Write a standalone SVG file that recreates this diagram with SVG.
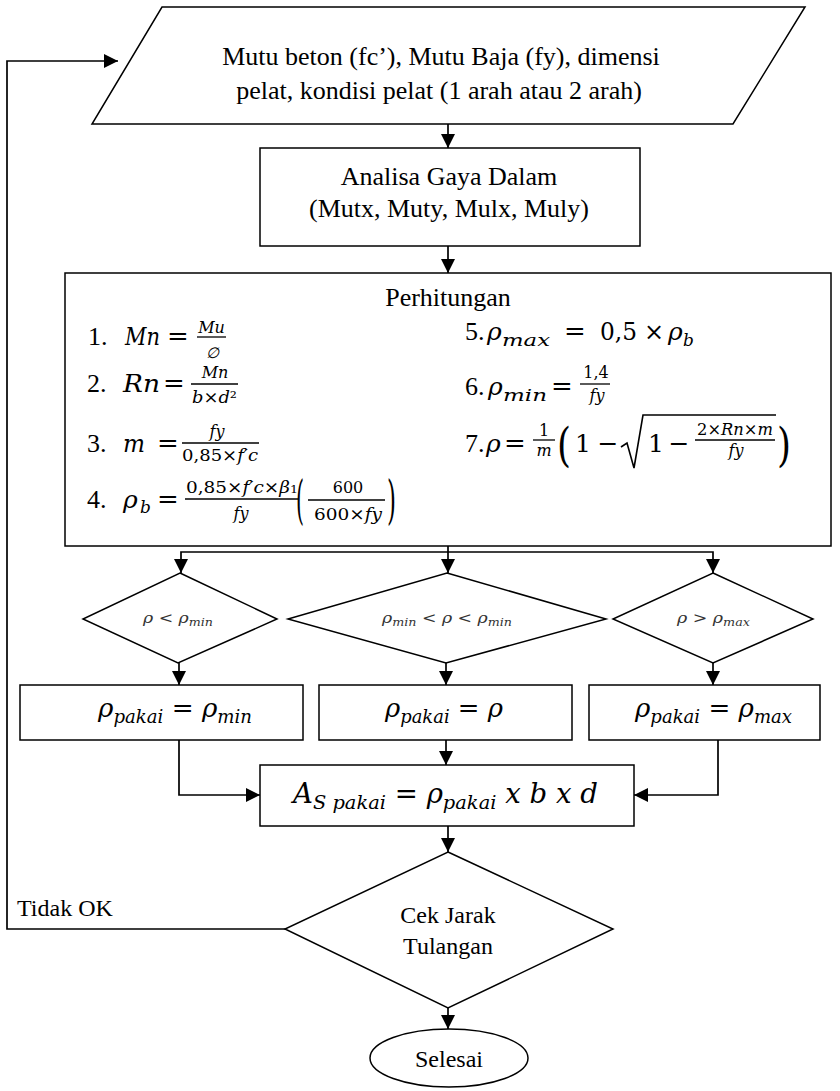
<svg xmlns="http://www.w3.org/2000/svg" width="840" height="1091" viewBox="0 0 840 1091">
<defs>
<marker id="arr" markerUnits="userSpaceOnUse" markerWidth="14" markerHeight="14" refX="14" refY="7" orient="auto">
<path d="M0,0 L14,7 L0,14 z" fill="#000"/>
</marker>
<style>
.box{fill:#fff;stroke:#000;stroke-width:1.5}
.ln{fill:none;stroke:#000;stroke-width:1.7;marker-end:url(#arr)}
.t{font-family:"Liberation Serif","Times New Roman",serif;font-size:26px;fill:#000}
.t24{font-size:24px}
.m{font-family:"DejaVu Serif",serif;font-style:italic;fill:#000}
.u{font-style:normal}
.bar{stroke:#000;stroke-width:1.3}
.c{text-anchor:middle}
.d{fill:#333}
</style>
</defs>
<rect width="840" height="1091" fill="#fff"/>

<g id="connectors">
<path class="ln" d="M448,124 V148"/>
<path class="ln" d="M448,246 V273"/>
<path class="ln" d="M448,546 V573"/>
<path class="ln" d="M448,552 H181 V573"/>
<path class="ln" d="M448,552 H713 V573"/>
<path class="ln" d="M179,663 V685"/>
<path class="ln" d="M446,663 V685"/>
<path class="ln" d="M713,663 V685"/>
<path class="ln" d="M179,740 V795 H260"/>
<path class="ln" d="M446,740 V765"/>
<path class="ln" d="M718,740 V795 H634"/>
<path class="ln" d="M448,826 V852"/>
<path class="ln" d="M448,1008 V1029"/>
<path class="ln" d="M285,929 H7 V61 H118"/>
</g>

<g id="input">
<polygon class="box" points="162,7 805,7 733,124 92,124"/>
<text class="t c" x="441" y="65">Mutu beton (fc’), Mutu Baja (fy), dimensi</text>
<text class="t c" x="439" y="99">pelat, kondisi pelat (1 arah atau 2 arah)</text>
</g>

<g id="analisa">
<rect class="box" x="260" y="148" width="380" height="98"/>
<text class="t c" x="449" y="185">Analisa Gaya Dalam</text>
<text class="t c" x="449" y="217">(Mutx, Muty, Mulx, Muly)</text>
</g>

<g id="perhitungan">
<rect class="box" x="65" y="273" width="766" height="273"/>
<text class="t c" x="448" y="306">Perhitungan</text>

<text class="t" x="88" y="345">1.</text>
<text class="m" x="125" y="345" font-size="25" textLength="35" lengthAdjust="spacingAndGlyphs">Mn</text>
<text class="m u c" x="178" y="345" font-size="26">=</text>
<text class="m c" x="211.5" y="333" font-size="16">Mu</text>
<line class="bar" x1="197" y1="337" x2="226" y2="337"/>
<text class="m c" x="212" y="358" font-size="15">∅</text>

<text class="t" x="87" y="392">2.</text>
<text class="m" x="123" y="392" font-size="25" textLength="37" lengthAdjust="spacingAndGlyphs">Rn</text>
<text class="m u c" x="174" y="392" font-size="26">=</text>
<text class="m c" x="215" y="378" font-size="16">Mn</text>
<line class="bar" x1="191" y1="384" x2="238" y2="384"/>
<text class="m c" x="214.5" y="403" font-size="16" textLength="45" lengthAdjust="spacingAndGlyphs">b<tspan class="u">×</tspan>d<tspan class="u">²</tspan></text>

<text class="t" x="87" y="452">3.</text>
<text class="m" x="123" y="452" font-size="25" textLength="22" lengthAdjust="spacingAndGlyphs">m</text>
<text class="m u c" x="168" y="452" font-size="26">=</text>
<text class="m c" x="217" y="437" font-size="16">fy</text>
<line class="bar" x1="182" y1="443" x2="259" y2="443"/>
<text class="m c" x="220" y="461" font-size="16" textLength="76" lengthAdjust="spacingAndGlyphs"><tspan class="u">0,85×</tspan>f′c</text>

<text class="t" x="87" y="508">4.</text>
<text class="m" x="123" y="508" font-size="25">ρ</text>
<text class="m" x="140" y="513" font-size="17">b</text>
<text class="m u c" x="168" y="508" font-size="26">=</text>
<text class="m c" x="242" y="493" font-size="16" textLength="112" lengthAdjust="spacingAndGlyphs"><tspan class="u">0,85×</tspan>f′c<tspan class="u">×</tspan>β<tspan class="u" font-size="11">1</tspan></text>
<line class="bar" x1="185" y1="499" x2="298" y2="499"/>
<text class="m c" x="241" y="519" font-size="16">fy</text>
<text class="m u" x="296" y="518" font-size="53" textLength="8" lengthAdjust="spacingAndGlyphs">(</text>
<text class="m u c" x="348" y="493" font-size="16">600</text>
<line class="bar" x1="308" y1="500" x2="385" y2="500"/>
<text class="m c" x="348" y="520" font-size="16" textLength="68" lengthAdjust="spacingAndGlyphs"><tspan class="u">600×</tspan>fy</text>
<text class="m u" x="387" y="518" font-size="53" textLength="9" lengthAdjust="spacingAndGlyphs">)</text>

<text class="t" x="465" y="340">5.</text>
<text class="m" x="487" y="340" font-size="25">ρ</text>
<text class="m" x="502" y="346" font-size="17" textLength="48" lengthAdjust="spacingAndGlyphs">max</text>
<text class="m u c" x="575" y="340" font-size="26">=</text>
<text class="m u" x="600" y="340" font-size="25" textLength="37" lengthAdjust="spacingAndGlyphs">0,5</text>
<text class="m u c" x="654" y="340" font-size="24">×</text>
<text class="m" x="668" y="340" font-size="25">ρ</text>
<text class="m" x="683" y="346" font-size="17">b</text>

<text class="t" x="465" y="395">6.</text>
<text class="m" x="488" y="395" font-size="25">ρ</text>
<text class="m" x="503" y="401" font-size="17" textLength="44" lengthAdjust="spacingAndGlyphs">min</text>
<text class="m u c" x="562" y="395" font-size="26">=</text>
<text class="m u c" x="596" y="378" font-size="16">1,4</text>
<line class="bar" x1="580" y1="384" x2="610" y2="384"/>
<text class="m c" x="597" y="401" font-size="16">fy</text>

<text class="t" x="465" y="452">7.</text>
<text class="m" x="486" y="452" font-size="25">ρ</text>
<text class="m u c" x="515" y="452" font-size="26">=</text>
<text class="m u c" x="544" y="436" font-size="16">1</text>
<line class="bar" x1="533" y1="440" x2="555" y2="440"/>
<text class="m c" x="544" y="456" font-size="16">m</text>
<text class="m u" x="557" y="461" font-size="47" textLength="14" lengthAdjust="spacingAndGlyphs">(</text>
<text class="m u" x="575" y="452" font-size="25">1</text>
<text class="m u c" x="608" y="452" font-size="25">−</text>
<path d="M621,447 L627,443 L634,468 L643,415 H776" fill="none" stroke="#000" stroke-width="1.6"/>
<text class="m u" x="648" y="452" font-size="25">1</text>
<text class="m u c" x="679" y="452" font-size="25">−</text>
<text class="m c" x="735" y="435" font-size="16" textLength="76" lengthAdjust="spacingAndGlyphs"><tspan class="u">2×</tspan>Rn<tspan class="u">×</tspan>m</text>
<line class="bar" x1="695" y1="440" x2="775" y2="440"/>
<text class="m c" x="736" y="456" font-size="16">fy</text>
<text class="m u" x="777" y="461" font-size="47" textLength="14" lengthAdjust="spacingAndGlyphs">)</text>
</g>

<g id="cek-min">
<polygon class="box" points="180,573 277,619 178,663 83,619"/>
<text class="m d c" x="178" y="623" font-size="15" textLength="70" lengthAdjust="spacingAndGlyphs">ρ &lt; ρ<tspan font-size="11" dy="3">min</tspan></text>
</g>

<g id="cek-antara">
<polygon class="box" points="447,573 606,619 446,663 288,619"/>
<text class="m d c" x="447" y="623" font-size="15" textLength="130" lengthAdjust="spacingAndGlyphs">ρ<tspan font-size="11" dy="3">min</tspan><tspan dy="-3"> &lt; ρ &lt; ρ</tspan><tspan font-size="11" dy="3">min</tspan></text>
</g>

<g id="cek-max">
<polygon class="box" points="713,573 813,619 713,663 613,619"/>
<text class="m d c" x="713.5" y="623" font-size="15" textLength="73" lengthAdjust="spacingAndGlyphs">ρ &gt; ρ<tspan font-size="11" dy="3">max</tspan></text>
</g>

<g id="pakai-min">
<rect class="box" x="20" y="685" width="283" height="55"/>
<text class="m c" x="175" y="717" font-size="26" textLength="154" lengthAdjust="spacingAndGlyphs">ρ<tspan font-size="18" dy="6">pakai</tspan><tspan class="u" dy="-6"> = </tspan>ρ<tspan font-size="18" dy="6">min</tspan></text>
</g>

<g id="pakai-rho">
<rect class="box" x="319" y="685" width="253" height="55"/>
<text class="m c" x="444" y="717" font-size="26" textLength="118" lengthAdjust="spacingAndGlyphs">ρ<tspan font-size="18" dy="6">pakai</tspan><tspan class="u" dy="-6"> = </tspan>ρ</text>
</g>

<g id="pakai-max">
<rect class="box" x="589" y="685" width="231" height="55"/>
<text class="m c" x="713.5" y="717" font-size="26" textLength="157" lengthAdjust="spacingAndGlyphs">ρ<tspan font-size="18" dy="6">pakai</tspan><tspan class="u" dy="-6"> = </tspan>ρ<tspan font-size="18" dy="6">max</tspan></text>
</g>

<g id="as-pakai">
<rect class="box" x="260" y="765" width="374" height="61"/>
<text class="m c" x="445.5" y="803" font-size="27" textLength="305" lengthAdjust="spacingAndGlyphs">A<tspan font-size="19" dy="6">S pakai</tspan><tspan class="u" dy="-6"> = </tspan>ρ<tspan font-size="19" dy="6">pakai</tspan><tspan dy="-6"> x b x d</tspan></text>
</g>

<g id="cek-jarak">
<polygon class="box" points="448,852 613,929 448,1008 285,929"/>
<text class="t t24 c" x="448" y="923">Cek Jarak</text>
<text class="t t24 c" x="448" y="954">Tulangan</text>
</g>

<text class="t t24" x="17" y="916">Tidak OK</text>

<g id="selesai">
<ellipse class="box" cx="449" cy="1058" rx="79" ry="29"/>
<text class="t t24 c" x="449" y="1067">Selesai</text>
</g>
</svg>
